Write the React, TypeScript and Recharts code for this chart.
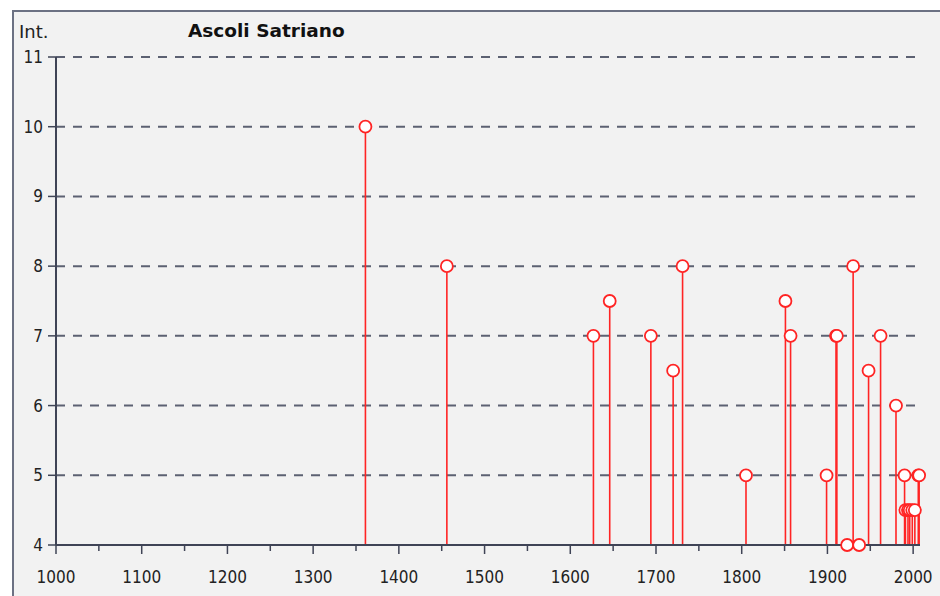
import React from "react";
import { ComposedChart, Scatter, XAxis, YAxis, CartesianGrid, ErrorBar } from "recharts";

// earthquake years and felt intensity at Ascoli Satriano
const years = [1361, 1456, 1627, 1646, 1694, 1720, 1731, 1805, 1851, 1857, 1899, 1910, 1911, 1923, 1930, 1937, 1948, 1962, 1980, 1990, 1991, 1994, 1996, 1999, 2002, 2006, 2007];
const intensities = [10, 8, 7, 7.5, 7, 6.5, 8, 5, 7.5, 7, 5, 7, 7, 4, 8, 4, 6.5, 7, 6, 5, 4.5, 4.5, 4.5, 4.5, 4.5, 5, 5];
const xTicks = [1000, 1050, 1100, 1150, 1200, 1250, 1300, 1350, 1400, 1450, 1500, 1550, 1600, 1650, 1700, 1750, 1800, 1850, 1900, 1950, 2000];
const yTicks = [4, 5, 6, 7, 8, 9, 10, 11];

const Y_MIN = 4;
const FONT = "'DejaVu Sans Condensed', 'DejaVu Sans', sans-serif";
const WIDE = "'DejaVu Sans', sans-serif";
const RED = "#ff2424";
const AXIS = "#3f4456";

const data = years.map((y, i) => ({
  year: y,
  int: intensities[i],
  stem: [intensities[i] - Y_MIN, 0],
}));

const XTick = (props: any) => {
  const { x, y, payload } = props;
  const major = payload.value % 100 === 0;
  return (
    <g>
      <line x1={x} x2={x} y1={y} y2={y + (major ? 9 : 6)} stroke={AXIS} strokeWidth={1.5} />
      {major && (
        <text x={x} y={y + 38} textAnchor="middle" fontSize={17} fontFamily={FONT} fill="#222">
          {payload.value}
        </text>
      )}
    </g>
  );
};

const Dot = (p: any) => (
  <circle cx={p.cx} cy={p.cy} r={6} fill="#fff" stroke={RED} strokeWidth={1.8} />
);

export default function App() {
  return (
    <div style={{ position: "absolute", left: 0, top: 0, width: 940, height: 596, background: "#fff", overflow: "hidden" }}>
      <div
        style={{
          position: "absolute",
          left: 12,
          top: 10,
          width: 960,
          height: 620,
          border: "2px solid #6c7183",
          background: "#f2f2f2",
        }}
      />
      <div style={{ position: "absolute", left: 19, top: 21, fontFamily: WIDE, fontSize: 18, color: "#222" }}>Int.</div>
      <div style={{ position: "absolute", left: 188, top: 20, fontFamily: WIDE, fontSize: 18.5, fontWeight: "bold", color: "#111" }}>
        Ascoli Satriano
      </div>
      <div style={{ position: "absolute", left: 0, top: 0 }}>
        <ComposedChart width={940} height={596} data={data} margin={{ top: 57, right: 20, bottom: 0, left: 0 }}>
          <CartesianGrid vertical={false} stroke="#5c6172" strokeWidth={2} strokeDasharray="9 8" />
          <XAxis
            dataKey="year"
            type="number"
            domain={[1000, 2008]}
            ticks={xTicks}
            interval={0}
            height={51}
            tickSize={0}
            tickMargin={0}
            tickLine={false}
            axisLine={{ stroke: AXIS, strokeWidth: 2 }}
            tick={<XTick />}
          />
          <YAxis
            dataKey="int"
            type="number"
            domain={[4, 11]}
            ticks={yTicks}
            interval={0}
            width={56}
            tickSize={8}
            tickMargin={5}
            tickLine={{ stroke: AXIS, strokeWidth: 1.5 }}
            axisLine={{ stroke: AXIS, strokeWidth: 2 }}
            tick={{ fontSize: 17, fontFamily: FONT, fill: "#222" }}
          />
          <Scatter dataKey="int" shape={<Dot />} isAnimationActive={false}>
            <ErrorBar dataKey="stem" direction="y" width={0} stroke={RED} strokeWidth={1.6} />
          </Scatter>
        </ComposedChart>
      </div>
    </div>
  );
}
